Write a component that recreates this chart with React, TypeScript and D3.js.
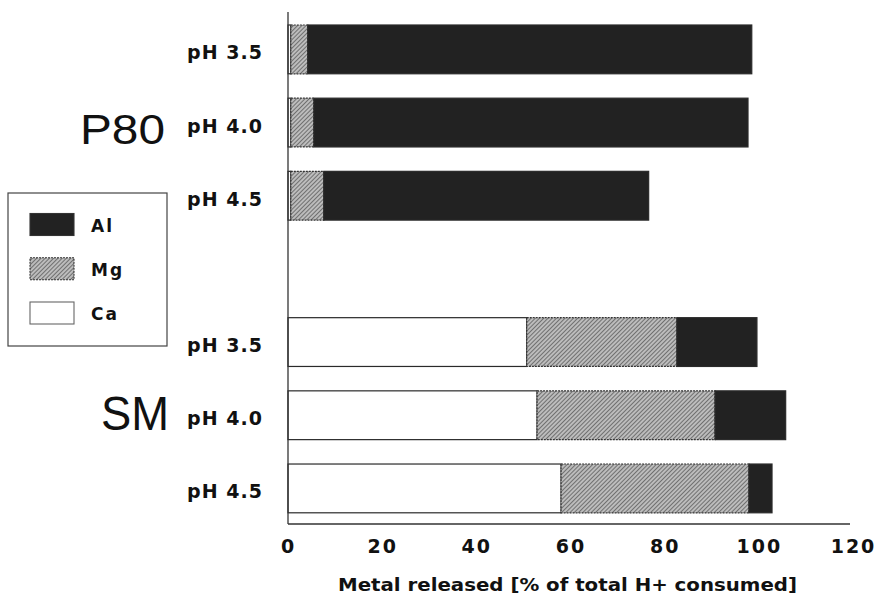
import { useEffect, useRef } from 'react'
import * as d3 from 'd3'

// one row per soil / pH treatment, top to bottom
const categories = ['P80 pH 3.5', 'P80 pH 4.0', 'P80 pH 4.5', 'SM pH 3.5', 'SM pH 4.0', 'SM pH 4.5']
const rowLabels = ['pH 3.5', 'pH 4.0', 'pH 4.5', 'pH 3.5', 'pH 4.0', 'pH 4.5']
// empty slot between the two soils
const slots = ['P80 pH 3.5', 'P80 pH 4.0', 'P80 pH 4.5', 'gap', 'SM pH 3.5', 'SM pH 4.0', 'SM pH 4.5']

// metal released, % of total H+ consumed
const caValues = [0.6, 0.6, 0.6, 50.7, 52.9, 58.0]
const mgValues = [3.6, 4.9, 7.0, 31.9, 37.8, 39.9]
const alValues = [94.3, 92.2, 69.0, 17.0, 15.0, 4.9]

const groups = ['P80', 'SM']
const groupRows = ['P80 pH 4.0', 'SM pH 4.0']

const xTicks = [0, 20, 40, 60, 80, 100, 120]
const legendItems = ['Al', 'Mg', 'Ca']
const xTitle = 'Metal released [% of total H+ consumed]'

const FONT = '"Liberation Sans", Arial, Helvetica, sans-serif'
const BOLD = '"DejaVu Sans", Verdana, sans-serif'

export default function App() {
  const svgRef = useRef<SVGSVGElement>(null)

  useEffect(() => {
    if (!svgRef.current) return
    const width = 875
    const height = 598

    d3.select(svgRef.current).selectAll('*').remove()
    const svg = d3.select(svgRef.current)
      .attr('width', width)
      .attr('height', height)
      .attr('viewBox', `0 0 ${width} ${height}`)

    // hatched fill for Mg
    const defs = svg.append('defs')
    const pat = defs.append('pattern')
      .attr('id', 'mgHatch')
      .attr('patternUnits', 'userSpaceOnUse')
      .attr('width', 3).attr('height', 3)
      .attr('patternTransform', 'rotate(-45)')
    pat.append('rect').attr('width', 3).attr('height', 3).attr('fill', '#bcbcbc')
    pat.append('line')
      .attr('x1', 0).attr('x2', 3).attr('y1', 0.5).attr('y2', 0.5)
      .attr('stroke', '#707070').attr('stroke-width', 1)

    const fills: Record<string, string> = { Al: '#222222', Mg: 'url(#mgHatch)', Ca: '#ffffff' }

    const x = d3.scaleLinear().domain([0, 120]).range([288, 853])
    const y = d3.scaleBand<string>()
      .domain(slots)
      .range([12.8, 525])
      .paddingInner(1 / 3)
      .paddingOuter(1 / 6)

    const data = categories.map((c, i) => ({ cat: c, Ca: caValues[i], Mg: mgValues[i], Al: alValues[i] }))
    const stack = d3.stack<any>().keys(['Ca', 'Mg', 'Al'])(data)

    // bars
    const layers = svg.append('g').selectAll('g')
      .data(stack)
      .enter().append('g')

    layers.selectAll('rect')
      .data(s => s.map(d => ({ key: s.key, d })))
      .enter().append('rect')
      .attr('x', v => x(v.d[0]))
      .attr('y', v => y(v.d.data.cat)!)
      .attr('width', v => x(v.d[1]) - x(v.d[0]))
      .attr('height', y.bandwidth())
      .attr('fill', v => fills[v.key])
      .attr('stroke', v => v.key === 'Mg' ? '#333' : '#2a2a2a')
      .attr('stroke-width', 1.2)
      .attr('stroke-dasharray', v => v.key === 'Mg' ? '2,1' : null)

    // axes: vertical line and bottom axis without tick marks
    const axisY = 524
    svg.append('line')
      .attr('x1', x(0)).attr('x2', x(0))
      .attr('y1', 12).attr('y2', axisY)
      .attr('stroke', '#333').attr('stroke-width', 1.3)

    svg.append('line')
      .attr('x1', x(0)).attr('x2', 850)
      .attr('y1', axisY).attr('y2', axisY)
      .attr('stroke', '#333').attr('stroke-width', 1.3)

    svg.append('g')
      .attr('transform', `translate(0,${axisY})`)
      .call(d3.axisBottom(x).tickValues(xTicks).tickSize(0).tickPadding(19))
      .call(ax => {
        ax.select('.domain').remove()
        ax.selectAll('text')
          .attr('fill', '#111')
          .attr('font-size', '19px')
          .attr('font-weight', 'bold')
          .attr('font-family', BOLD)
          .attr('dy', '0.5em')
          .attr('letter-spacing', '2px')
      })

    svg.append('text')
      .attr('x', 567.5)
      .attr('y', 591)
      .attr('text-anchor', 'middle')
      .attr('font-size', '18px')
      .attr('font-weight', 'bold')
      .attr('font-family', BOLD)
      .attr('fill', '#111')
      .attr('textLength', 459)
      .attr('lengthAdjust', 'spacingAndGlyphs')
      .text(xTitle)

    // row labels
    svg.append('g').selectAll('text')
      .data(categories)
      .enter().append('text')
      .attr('x', 262)
      .attr('y', c => y(c)! + y.bandwidth() / 2 + 10)
      .attr('text-anchor', 'end')
      .attr('font-size', '19px')
      .attr('font-weight', 'bold')
      .attr('font-family', BOLD)
      .attr('fill', '#111')
      .attr('textLength', 75)
      .attr('lengthAdjust', 'spacing')
      .text((c, i) => rowLabels[i])

    // group labels
    svg.append('g').selectAll('text')
      .data(groups)
      .enter().append('text')
      .attr('x', (g, i) => i === 0 ? 165 : 169)
      .attr('y', (g, i) => y(groupRows[i])! + y.bandwidth() / 2 + (i === 0 ? 21 : 15))
      .attr('text-anchor', 'end')
      .attr('font-size', (g, i) => i === 0 ? '42px' : '48px')
      .attr('font-family', FONT)
      .attr('fill', '#111')
      .attr('textLength', (g, i) => i === 0 ? 85 : 68)
      .attr('lengthAdjust', 'spacingAndGlyphs')
      .text(g => g)

    // legend
    const lg = svg.append('g')
    lg.append('rect')
      .attr('x', 8).attr('y', 193)
      .attr('width', 159).attr('height', 153)
      .attr('fill', 'none')
      .attr('stroke', '#444').attr('stroke-width', 1.2)

    const ly = d3.scalePoint<string>().domain(legendItems).range([224.5, 313])
    const items = lg.selectAll('g.item')
      .data(legendItems)
      .enter().append('g')
      .attr('class', 'item')
      .attr('transform', k => `translate(0,${ly(k)})`)
    items.append('rect')
      .attr('x', 30).attr('y', -11)
      .attr('width', 44).attr('height', 22)
      .attr('fill', k => fills[k])
      .attr('stroke', k => k === 'Ca' ? '#666' : '#333')
      .attr('stroke-width', 1.1)
      .attr('stroke-dasharray', k => k === 'Mg' ? '2,1' : null)
    items.append('text')
      .attr('x', 91)
      .attr('y', 7)
      .attr('font-size', '17px')
      .attr('font-weight', 'bold')
      .attr('font-family', BOLD)
      .attr('fill', '#111')
      .attr('letter-spacing', '2px')
      .text(k => k)
  }, [])

  return (
    <svg
      ref={svgRef}
      style={{ position: 'absolute', left: 0, top: 0, display: 'block', background: '#fff' }}
    />
  )
}
